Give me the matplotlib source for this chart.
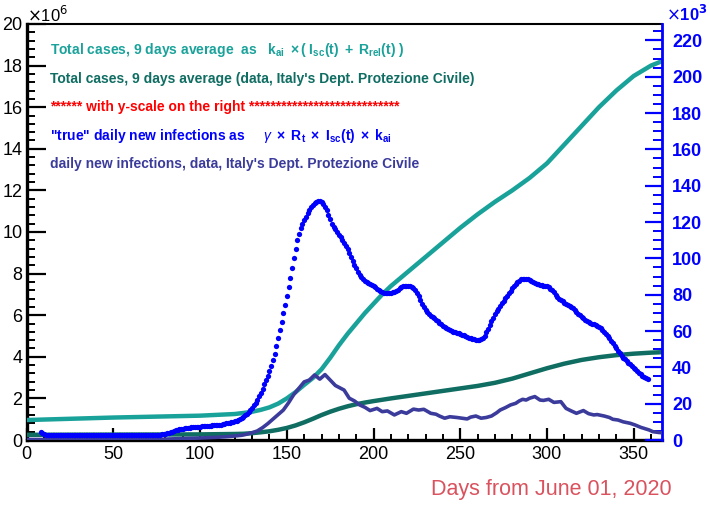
import matplotlib
matplotlib.use("Agg")
import matplotlib.pyplot as plt
from matplotlib.ticker import MultipleLocator

# ---- data ----
# total cases, left scale, millions
model_days = [0, 50, 100, 120, 125, 130, 135, 140, 145, 150, 155, 160, 165, 170, 175, 180,
              185, 190, 195, 200, 205, 210, 215, 220, 230, 240, 250, 260, 270, 280, 290, 300,
              310, 320, 330, 340, 350, 360, 366]
model_total = [0.96, 1.08, 1.17, 1.25, 1.3, 1.36, 1.45, 1.57, 1.75, 2.0, 2.3, 2.65, 2.98, 3.4, 3.95, 4.55,
               5.1, 5.6, 6.1, 6.55, 7.0, 7.4, 7.75, 8.1, 8.8, 9.5, 10.2, 10.85, 11.45, 12.0, 12.6, 13.3,
               14.2, 15.1, 16.0, 16.8, 17.5, 18.0, 18.2]

data_days = [0, 100, 120, 125, 130, 135, 140, 145, 150, 155, 160, 165, 170, 175, 180, 185, 190,
             195, 200, 210, 220, 230, 240, 250, 260, 270, 280, 290, 300, 310, 320, 330, 340,
             350, 360, 366]
data_total = [0.25, 0.27, 0.29, 0.3, 0.33, 0.37, 0.42, 0.49, 0.58, 0.7, 0.85, 1.02, 1.2, 1.36, 1.5, 1.62, 1.72,
              1.8, 1.87, 2.0, 2.12, 2.24, 2.36, 2.48, 2.6, 2.75, 2.95, 3.2, 3.45, 3.67, 3.85, 3.98, 4.08,
              4.15, 4.2, 4.22]

# daily new infections, right scale, thousands
true_start = 8
true_daily = [
    4.2, 3.6, 3.2, 3.0, 2.9, 2.8, 2.8, 2.8, 2.8, 2.8,
    2.8, 2.8, 2.8, 2.8, 2.8, 2.8, 2.8, 2.8, 2.8, 2.8,
    2.8, 2.8, 2.8, 2.8, 2.8, 2.8, 2.8, 2.8, 2.8, 2.8,
    2.8, 2.8, 2.8, 2.8, 2.8, 2.8, 2.8, 2.8, 2.8, 2.8,
    2.8, 2.8, 2.8, 2.8, 2.8, 2.8, 2.8, 2.8, 2.8, 2.8,
    2.8, 2.8, 2.8, 2.8, 2.8, 2.8, 2.8, 2.8, 2.8, 2.8,
    2.8, 2.8, 2.8, 2.8, 2.8, 2.8, 2.8, 2.8, 2.9, 3.0,
    3.1, 3.2, 3.4, 3.6, 3.9, 4.2, 4.6, 5.0, 5.3, 5.6,
    5.8, 6.0, 6.2, 6.4, 6.5, 6.6, 6.8, 6.9, 7.0, 7.1,
    7.2, 7.3, 7.4, 7.5, 7.6, 7.7, 7.8, 7.8, 7.9, 8.0,
    8.1, 8.2, 8.3, 8.4, 8.5, 8.7, 8.9, 9.1, 9.3, 9.5,
    9.7, 9.9, 10.2, 10.5, 10.9, 11.4, 12.0, 12.7, 13.5, 14.4,
    15.4, 16.5, 17.7, 19.0, 20.5, 22.2, 24.0, 26.0, 28.2, 30.6,
    33.0, 35.5, 38.0, 40.8, 44.0, 47.5, 51.5, 56.0, 60.5, 65.0,
    70.0, 74.5, 79.0, 84.0, 89.0, 94.5, 100.0, 105.0, 110.0, 113.5,
    116.5, 119.0, 121.0, 123.0, 125.0, 126.8, 128.2, 129.4, 130.4, 131.0,
    131.4, 131.5, 131.0, 130.0, 128.5, 126.5, 124.0, 121.5, 119.0, 117.5,
    116.0, 114.5, 113.0, 111.5, 110.0, 108.5, 107.0, 105.0, 103.0, 100.5,
    98.5, 96.5, 94.5, 92.5, 91.0, 89.5, 88.5, 87.5, 87.0, 86.5,
    86.0, 85.5, 85.0, 84.0, 83.0, 82.5, 82.0, 81.5, 81.0, 81.0,
    80.8, 80.8, 81.0, 81.3, 81.7, 82.2, 82.8, 83.4, 84.0, 84.5,
    84.8, 85.0, 85.0, 84.8, 84.3, 83.5, 82.5, 81.0, 79.0, 77.0,
    75.0, 73.2, 71.8, 70.5, 69.5, 68.5, 67.8, 67.0, 66.2, 65.4,
    64.6, 63.8, 63.0, 62.3, 61.6, 61.0, 60.5, 60.0, 59.6, 59.3,
    59.0, 58.7, 58.4, 58.0, 57.6, 57.2, 56.8, 56.4, 56.0, 55.7,
    55.5, 55.3, 55.2, 55.2, 55.5, 56.2, 57.5, 59.2, 61.2, 63.4,
    65.5, 67.4, 69.2, 70.8, 72.3, 73.8, 75.2, 76.6, 78.0, 79.4,
    80.8, 82.2, 83.5, 84.8, 86.0, 87.0, 87.8, 88.4, 88.7, 88.8,
    88.7, 88.4, 88.0, 87.5, 87.0, 86.5, 86.1, 85.7, 85.4, 85.2,
    85.0, 84.8, 84.5, 84.0, 83.3, 82.3, 81.2, 80.0, 78.8, 77.7,
    77.0, 76.3, 75.6, 75.0, 74.5, 74.0, 73.3, 72.5, 71.6, 70.6,
    69.6, 68.7, 67.8, 67.0, 66.3, 65.7, 65.1, 64.6, 64.1, 63.7,
    63.4, 63.0, 62.4, 61.6, 60.6, 59.5, 58.3, 57.2, 56.0, 54.6,
    53.2, 51.8, 50.4, 49.0, 47.7, 46.5, 45.4, 44.4, 43.4, 42.5,
    41.6, 40.7, 39.8, 38.9, 38.0, 37.1, 36.3, 35.5, 34.7, 34.0,
    33.4]
true_days = list(range(true_start, true_start + len(true_daily)))

obs_days = [0, 40, 75, 80, 90, 100, 110, 115, 120, 124, 126, 130, 133, 136, 139, 142, 145,
            148, 151, 154, 157, 160, 163, 166, 169, 172, 175, 178, 180, 183, 186, 189, 192,
            195, 198, 202, 205, 208, 212, 216, 219, 223, 226, 229, 233, 236, 238, 241, 244,
            248, 251, 254, 256, 259, 262, 265, 268, 271, 273, 276, 279, 282, 284, 286, 288,
            290, 293, 296, 298, 301, 304, 308, 311, 314, 317, 321, 324, 327, 329, 333, 336,
            338, 341, 344, 348, 351, 354, 356, 359, 361, 364, 366]
obs_daily = [0.3, 0.3, 0.3, 0.5, 0.8, 1.1, 1.5, 1.8, 2.2, 2.6, 3.0, 4.0, 5.0, 6.8, 9.0, 11.5, 14.0,
             16.5, 20.5, 25.0, 28.5, 32.0, 33.0, 35.8, 33.5, 36.0, 33.0, 30.0, 29.0, 27.5, 23.0, 21.5, 19.3,
             18.0, 16.2, 17.4, 15.6, 16.0, 13.8, 15.6, 14.7, 17.0, 16.5, 16.9, 14.7, 14.2, 13.2, 12.0, 12.8,
             12.4, 12.0, 11.6, 12.6, 13.2, 12.0, 12.4, 13.2, 15.0, 16.5, 17.8, 19.3, 20.2, 21.5, 22.4, 22.0,
             23.0, 23.9, 22.0, 21.8, 22.4, 20.7, 21.1, 17.4, 16.0, 14.7, 16.2, 14.5, 13.8, 14.0, 13.2, 12.4,
             11.4, 11.0, 10.0, 9.2, 8.2, 7.0, 6.4, 5.5, 4.6, 4.2, 4.0]

left_ticks = [0, 2, 4, 6, 8, 10, 12, 14, 16, 18, 20]
right_ticks = [0, 20, 40, 60, 80, 100, 120, 140, 160, 180, 200, 220]
x_ticks = [0, 50, 100, 150, 200, 250, 300, 350]

legend_lines = [
    r"Total cases, 9 days average  as   $\mathbf{k_{ai}}\ \times\mathbf{(\ I_{sc}(t)\ +\ R_{rel}(t)\ )}$",
    "Total cases, 9 days average (data, Italy's Dept. Protezione Civile)",
    "****** with y-scale on the right ****************************",
    r'"true" daily new infections as     $\gamma\ \times\ \mathbf{R_t}\ \times\ \mathbf{I_{sc}(t)}\ \times\ \mathbf{k_{ai}}$',
    "daily new infections, data, Italy's Dept. Protezione Civile",
]

teal = '#19a29a'
dark_teal = '#0f6d62'
blue = '#0000ff'
slate = '#3b3b9c'
legend_colors = [teal, dark_teal, '#ff0000', blue, slate]

plt.rcParams.update({'font.family': 'Liberation Sans',
                     'mathtext.fontset': 'custom',
                     'mathtext.rm': 'Liberation Sans:bold',
                     'mathtext.bf': 'Liberation Sans:bold',
                     'mathtext.it': 'Liberation Sans:italic'})

fig = plt.figure(figsize=(7.1, 5.05), dpi=100)
ax = fig.add_axes([0.0376, 0.1287, 0.8952, 0.8238])

ax.plot(model_days, model_total, color=teal, lw=3.2, zorder=3)
ax.plot(data_days, data_total, color=dark_teal, lw=3.2, zorder=3)
ax.set_xlim(0, 366.5)
ax.set_ylim(0, 20)

ax2 = ax.twinx()
ax2.plot(obs_days, obs_daily, color=slate, lw=2.6, zorder=3)
ax2.plot(true_days, true_daily, 'o', ms=3.8, mew=0, color=blue, zorder=4)
ax2.set_ylim(0, 229)
ax2.set_xlim(0, 366.5)

# spines
for s in ['left', 'bottom']:
    ax.spines[s].set_linewidth(2.4)
ax.spines['top'].set_linewidth(1.5)
ax.spines['right'].set_visible(False)
for s in ['left', 'top', 'bottom']:
    ax2.spines[s].set_visible(False)
ax2.spines['right'].set_color(blue)
ax2.spines['right'].set_linewidth(2.0)

# ticks
ax.set_xticks(x_ticks)
ax.xaxis.set_minor_locator(MultipleLocator(10))
ax.set_yticks(left_ticks)
ax.yaxis.set_minor_locator(MultipleLocator(0.4))
ax.tick_params(axis='x', which='major', direction='in', length=8.6, width=1.6, labelsize=13, pad=4, top=False)
ax.tick_params(axis='x', which='minor', direction='in', length=4.3, width=1.4, top=False)
ax.tick_params(axis='y', which='major', direction='in', length=14, width=1.6, labelsize=13, pad=3, right=False)
ax.tick_params(axis='y', which='minor', direction='in', length=6, width=1.4, right=False)

ax2.set_yticks(right_ticks)
ax2.set_yticklabels([str(t) for t in right_ticks], fontweight='bold')
ax2.yaxis.set_minor_locator(MultipleLocator(5))
ax2.tick_params(axis='y', which='major', direction='in', length=12, width=1.6, colors=blue, labelsize=13, pad=7)
ax2.tick_params(axis='y', which='minor', direction='in', length=6.5, width=1.4, colors=blue)

# exponents
fig.text(27 / 710, 1 - 22 / 505, r'$\times$10$^{6}$', fontsize=12, ha='left', va='baseline',
         fontweight='normal', math_fontfamily='dejavusans')
fig.text(666 / 710, 1 - 21 / 505, r'$\times$10$^{\mathbf{3}}$', fontsize=12, ha='left', va='baseline',
         fontweight='bold', color=blue, math_fontfamily='dejavusans')

# legend text
baselines = [54, 83, 111, 140, 168]
for txt, c, yb in zip(legend_lines, legend_colors, baselines):
    fig.text(50 / 710, 1 - yb / 505, txt, color=c, fontsize=10, fontweight='bold',
             ha='left', va='baseline')

fig.text(672 / 710, 1 - 490 / 505, 'Days from June 01, 2020', fontsize=15.5, color='#d9525e',
         ha='right', va='center')

plt.savefig("out.png", dpi=100)
plt.close()
